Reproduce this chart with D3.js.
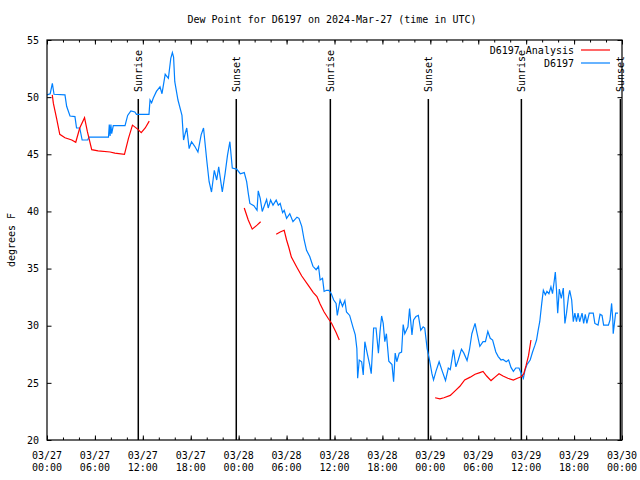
<!DOCTYPE html>
<html><head><meta charset="utf-8">
<script src="https://cdn.jsdelivr.net/npm/d3@7"></script>
<style>body{margin:0;background:#fff}svg{display:block}text{font-family:"DejaVu Sans Mono",monospace;font-size:10px;fill:#000}</style>
</head><body>
<svg id="c" width="640" height="480"></svg>
<script>
const title = "Dew Point for D6197 on 2024-Mar-27 (time in UTC)";
const yLabel = "degrees F";
const xTickHours = [0,6,12,18,24,30,36,42,48,54,60,66,72];
const xTickDates = ["03/27","03/27","03/27","03/27","03/28","03/28","03/28","03/28","03/29","03/29","03/29","03/29","03/30"];
const xTickTimes = ["00:00","06:00","12:00","18:00","00:00","06:00","12:00","18:00","00:00","06:00","12:00","18:00","00:00"];
const yTicks = [20,25,30,35,40,45,50,55];
const sunHours = [11.43,23.7,35.48,47.75,59.4,71.8];
const sunLabels = ["Sunrise","Sunset","Sunrise","Sunset","Sunrise","Sunset"];
const seriesNames = ["D6197 Analysis","D6197"];
const seriesColors = ["#ff0000","#0080ff"];

const obsHours = [0.0,0.4,0.67,0.88,2.25,2.46,2.88,3.5,3.7,4.1,4.4,5.1,5.25,7.7,7.8,7.9,8.0,8.1,8.3,9.77,10.1,10.5,11.0,11.2,12.77,12.9,13.1,13.3,13.7,14.15,14.4,14.8,15.2,15.5,15.7,15.85,16.0,16.4,16.9,17.1,17.3,17.5,17.8,18.1,18.5,18.9,19.3,19.6,20.0,20.3,20.6,20.95,21.25,21.5,21.95,22.3,22.6,22.9,23.2,23.75,24.2,24.7,25.0,25.2,25.4,25.9,26.3,26.45,26.7,26.95,27.5,27.7,28.0,28.3,28.7,28.96,29.2,29.5,29.7,30.0,30.4,30.8,31.3,31.55,31.9,32.2,32.5,32.9,33.3,33.7,34.0,34.2,34.5,34.7,35.0,35.3,35.6,35.9,36.2,36.35,36.7,37.0,37.3,37.5,37.9,38.3,38.6,38.8,38.9,39.1,39.4,39.6,39.8,40.0,40.4,40.6,40.9,41.2,41.5,41.7,41.9,42.1,42.3,42.5,42.8,43.2,43.4,43.6,43.8,44.1,44.4,44.6,44.8,45.2,45.4,45.7,45.9,46.2,46.5,46.8,47.1,47.3,47.6,47.9,48.2,48.4,48.7,49.1,49.5,49.9,50.25,50.5,50.9,51.2,51.5,51.9,52.2,52.6,52.9,53.2,53.6,53.8,54.2,54.6,54.9,55.2,55.5,55.8,56.2,56.5,56.85,57.1,57.5,57.8,58.1,58.4,58.7,59.1,59.4,59.65,59.85,60.1,60.5,60.8,61.1,61.3,61.5,61.7,61.95,62.15,62.4,62.6,62.85,63.1,63.3,63.5,63.65,63.8,63.95,64.15,64.4,64.65,64.85,65.05,65.3,65.45,65.7,65.9,66.1,66.3,66.5,66.7,67.0,67.2,67.4,67.6,67.9,68.4,68.6,69.0,69.25,69.5,69.7,70.3,70.5,70.7,70.85,70.9,71.1,71.2,71.5];
const obsValues = [50.2,50.3,51.2,50.25,50.2,49.2,48.35,48.3,47.3,47.3,46.25,46.25,46.5,46.5,47.6,46.6,47.6,46.8,47.5,47.5,48.4,48.8,48.7,48.5,48.5,49.75,49.5,49.9,50.5,50.9,50.3,52.0,51.65,53.4,53.9,53.5,51.35,49.75,48.4,46.25,46.8,47.3,45.5,46.1,45.7,45.2,46.7,47.3,44.5,42.6,41.7,43.6,42.75,43.9,41.7,43.3,44.9,46.1,43.8,43.7,43.3,43.4,42.6,41.6,40.7,40.5,40.1,41.8,41.15,40.0,41.05,40.3,41.0,40.55,41.0,40.55,40.7,39.9,40.1,39.4,39.8,39.1,39.5,39.4,38.7,37.5,36.6,36.05,35.2,34.9,35.2,34.0,34.15,33.0,33.1,33.1,32.8,32.25,31.95,30.9,32.25,31.7,32.2,31.2,30.9,29.9,29.2,28.0,25.4,27.0,26.85,25.7,28.6,27.9,26.6,25.8,29.8,29.8,27.6,29.5,30.85,30.2,28.6,29.3,26.9,26.6,25.1,27.6,26.85,27.6,27.7,30.1,29.3,29.9,31.5,29.2,30.5,30.8,30.9,29.6,29.9,29.8,28.0,27.0,25.8,25.25,26.0,26.85,26.0,25.2,26.3,26.15,27.9,26.4,27.0,27.95,27.6,26.95,27.9,29.3,30.2,29.5,28.2,28.6,28.6,29.5,28.9,28.75,27.7,27.3,27.0,27.05,26.85,27.0,26.35,26.0,26.3,26.3,25.8,25.4,26.1,26.6,27.0,27.7,28.3,28.75,29.6,30.35,31.95,33.1,32.7,33.0,32.8,33.4,32.8,33.85,34.7,33.1,31.1,33.2,32.4,33.3,30.2,31.1,32.55,33.1,32.25,30.35,31.1,30.35,31.1,30.35,31.1,30.2,31.0,30.2,31.1,31.1,30.2,30.05,31.0,30.9,30.05,30.05,30.5,31.95,30.5,29.3,30.5,31.1,31.1];

const anaHours = [0.66,0.8,1.2,1.6,2.25,3.1,3.6,4.1,4.7,5.05,5.6,6.4,7.9,8.5,9.7,10.2,10.7,11.35,11.8,12.3,12.8,18,24.7,25.2,25.7,26.3,26.75,27.7,28.7,29.2,29.7,30.0,30.3,30.6,31.3,31.9,32.7,33.35,33.8,34.2,34.7,35.2,35.65,36.2,36.6,42,48.6,49.2,49.7,50.5,51.1,51.7,52.3,53.0,53.6,54.2,54.6,55.05,55.6,56.1,56.6,57.1,57.7,58.4,58.9,59.45,59.7,60.0,60.3,60.6];
const anaValues = [50.2,49.45,48.15,46.75,46.45,46.25,46.05,47.3,48.2,47.0,45.4,45.3,45.2,45.1,45.0,46.4,47.55,47.2,46.9,47.3,47.9,null,40.3,39.25,38.45,38.8,39.1,null,38.0,38.2,38.35,37.5,36.8,36.0,35.1,34.35,33.55,32.9,32.55,31.9,31.2,30.65,30.2,29.4,28.75,null,23.7,23.6,23.7,23.9,24.3,24.7,25.25,25.5,25.75,25.9,26.0,25.6,25.2,25.5,25.8,25.6,25.4,25.25,25.4,25.55,25.8,26.55,27.4,28.75];

const svg = d3.select("#c");
const L = 47, R = 622, T = 40, B = 440;
const x = d3.scaleLinear().domain([0,72]).range([L,R]);
const y = d3.scaleLinear().domain([20,55]).range([B,T]);

// title
svg.append("text").attr("x",332).attr("y",23).attr("text-anchor","middle").text(title);
svg.append("text").attr("transform","translate(15,240) rotate(-90)").attr("text-anchor","middle").text(yLabel);

// axes
const minor = d3.range(0,73,2);
const gx = svg.append("g").attr("transform",`translate(0,${B})`)
  .call(d3.axisBottom(x).tickValues(minor).tickSize(-2.5).tickFormat(""));
const gxM = svg.append("g").attr("transform",`translate(0,${B})`)
  .call(d3.axisBottom(x).tickValues(xTickHours).tickSize(-4.5).tickFormat(""));
const gxt = svg.append("g").attr("transform",`translate(0,${T})`)
  .call(d3.axisTop(x).tickValues(minor).tickSize(-2.5).tickFormat(""));
const gxtM = svg.append("g").attr("transform",`translate(0,${T})`)
  .call(d3.axisTop(x).tickValues(xTickHours).tickSize(-4.5).tickFormat(""));
const gy = svg.append("g").attr("transform",`translate(${L},0)`)
  .call(d3.axisLeft(y).tickValues(yTicks).tickSize(-4.5).tickPadding(8).tickFormat(d3.format("d")));
const gyr = svg.append("g").attr("transform",`translate(${R},0)`)
  .call(d3.axisRight(y).tickValues(yTicks).tickSize(-4.5).tickFormat(""));
svg.selectAll(".domain").remove();
svg.selectAll(".tick line").attr("stroke","#000");
gy.selectAll("text").attr("font-family","DejaVu Sans Mono").attr("font-size",10).attr("fill","#000").attr("dx",0);

// x labels (two lines)
const xl = svg.append("g");
xTickHours.forEach((h,i)=>{
  const t = xl.append("text").attr("x",x(h)).attr("text-anchor","middle");
  t.append("tspan").attr("x",x(h)).attr("y",459).text(xTickDates[i]);
  t.append("tspan").attr("x",x(h)).attr("y",471).text(xTickTimes[i]);
});

// sunrise/sunset
sunHours.forEach((h,i)=>{
  const xx = x(h);
  svg.append("line").attr("x1",xx).attr("x2",xx).attr("y1",99).attr("y2",B)
    .attr("stroke","#000").attr("stroke-width",1.5);
  svg.append("text").attr("transform",`translate(${xx+4},92) rotate(-90)`).text(sunLabels[i]);
});

// series
const lineObs = d3.line().x((d,i)=>x(obsHours[i])).y(d=>y(d));
svg.append("path").datum(obsValues).attr("d",lineObs).attr("fill","none")
  .attr("stroke",seriesColors[1]).attr("stroke-width",1.2);
const lineAna = d3.line().defined(d=>d!==null).x((d,i)=>x(anaHours[i])).y(d=>y(d));
svg.append("path").datum(anaValues).attr("d",lineAna).attr("fill","none")
  .attr("stroke",seriesColors[0]).attr("stroke-width",1.2);

// frame
svg.append("rect").attr("x",L).attr("y",T).attr("width",R-L).attr("height",B-T)
  .attr("fill","none").attr("stroke","#000").attr("stroke-width",1.2);

// legend
seriesNames.forEach((n,i)=>{
  const yy = 50 + i*13;
  svg.append("text").attr("x",574).attr("y",yy+4).attr("text-anchor","end").text(n);
  svg.append("line").attr("x1",581).attr("x2",610).attr("y1",yy).attr("y2",yy)
    .attr("stroke",seriesColors[i]).attr("stroke-width",1.2);
});
</script>
</body></html>
